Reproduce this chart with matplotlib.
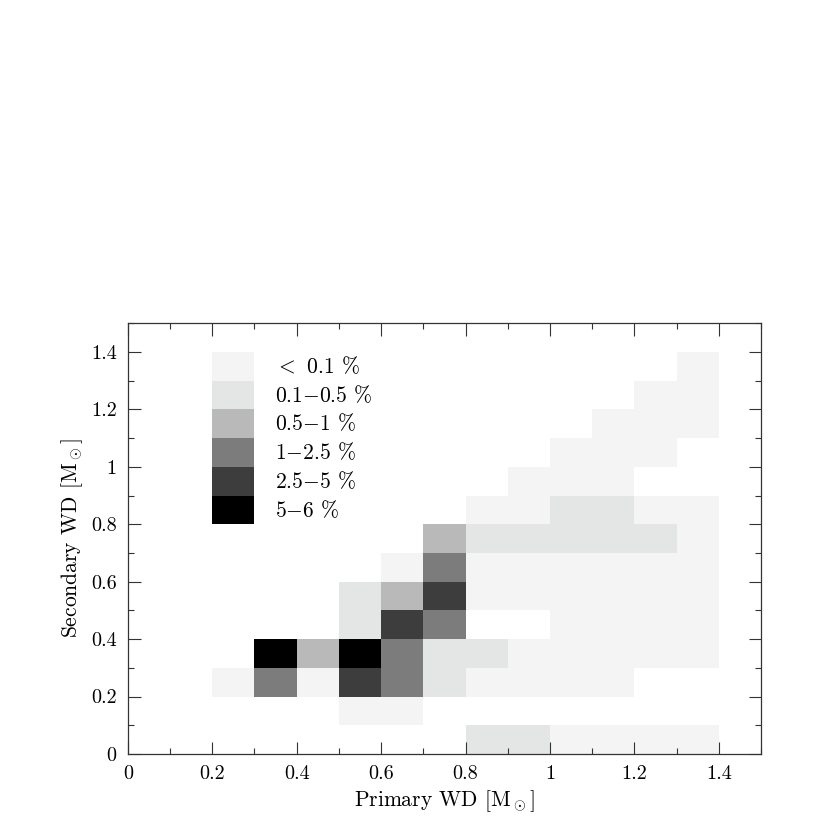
import numpy as np
import matplotlib
matplotlib.use("Agg")
import matplotlib.pyplot as plt
from matplotlib.colors import ListedColormap, BoundaryNorm
from matplotlib.patches import Rectangle
from matplotlib.ticker import MultipleLocator, FormatStrFormatter

plt.rcParams['font.family'] = ['cmr10', 'DejaVu Serif']
plt.rcParams['mathtext.fontset'] = 'cm'
plt.rcParams['axes.unicode_minus'] = False

# bin edges in solar masses
X_EDGES = np.round(np.arange(0, 1.51, 0.1), 2)
Y_EDGES = np.round(np.arange(0, 1.51, 0.1), 2)

# level codes per secondary-mass bin (row), one entry per primary-mass bin
# 0 = empty, 1 = <0.1%, 2 = 0.1-0.5%, 3 = 0.5-1%, 4 = 1-2.5%, 5 = 2.5-5%, 6 = 5-6%
ROW_00 = [0, 0, 0, 0, 0, 0, 0, 0, 2, 2, 1, 1, 1, 1, 0]
ROW_01 = [0, 0, 0, 0, 0, 1, 1, 0, 0, 0, 0, 0, 0, 0, 0]
ROW_02 = [0, 0, 1, 4, 1, 5, 4, 2, 1, 1, 1, 1, 0, 0, 0]
ROW_03 = [0, 0, 0, 6, 3, 6, 4, 2, 2, 1, 1, 1, 1, 1, 0]
ROW_04 = [0, 0, 0, 0, 0, 2, 5, 4, 0, 0, 1, 1, 1, 1, 0]
ROW_05 = [0, 0, 0, 0, 0, 2, 3, 5, 1, 1, 1, 1, 1, 1, 0]
ROW_06 = [0, 0, 0, 0, 0, 0, 1, 4, 1, 1, 1, 1, 1, 1, 0]
ROW_07 = [0, 0, 0, 0, 0, 0, 0, 3, 2, 2, 2, 2, 2, 1, 0]
ROW_08 = [0, 0, 0, 0, 0, 0, 0, 0, 1, 1, 2, 2, 1, 1, 0]
ROW_09 = [0, 0, 0, 0, 0, 0, 0, 0, 0, 1, 1, 1, 0, 0, 0]
ROW_10 = [0, 0, 0, 0, 0, 0, 0, 0, 0, 0, 1, 1, 1, 0, 0]
ROW_11 = [0, 0, 0, 0, 0, 0, 0, 0, 0, 0, 0, 1, 1, 1, 0]
ROW_12 = [0, 0, 0, 0, 0, 0, 0, 0, 0, 0, 0, 0, 1, 1, 0]
ROW_13 = [0, 0, 0, 0, 0, 0, 0, 0, 0, 0, 0, 0, 0, 1, 0]
ROW_14 = [0] * 15

LEVEL_LABELS = [r'$<$ 0.1 %', r'0.1$-$0.5 %', r'0.5$-$1 %',
                r'1$-$2.5 %', r'2.5$-$5 %', r'5$-$6 %']
LEVEL_COLORS = ['#f3f4f3', '#e4e5e5', '#b8b9b8', '#7b7c7b', '#3c3d3c', '#000000']

grid = np.array([ROW_00, ROW_01, ROW_02, ROW_03, ROW_04, ROW_05, ROW_06, ROW_07,
                 ROW_08, ROW_09, ROW_10, ROW_11, ROW_12, ROW_13, ROW_14])
grid = np.ma.masked_equal(grid, 0)

cmap = ListedColormap(LEVEL_COLORS)
norm = BoundaryNorm(np.arange(0.5, 7.0, 1.0), cmap.N)

fig = plt.figure(figsize=(8.3, 8.3), dpi=100)
ax = fig.add_axes([0.154, 0.0916, 0.763, 0.519])

ax.pcolormesh(X_EDGES, Y_EDGES, grid, cmap=cmap, norm=norm, edgecolors='none')

# legend boxes, stacked downwards from the top-left
lx, ly, bw, bh = 0.2, 1.4, 0.1, 0.1
for i, (lab, col) in enumerate(zip(LEVEL_LABELS, LEVEL_COLORS)):
    y0 = ly - (i + 1) * bh
    ax.add_patch(Rectangle((lx, y0), bw, bh, facecolor=col, edgecolor='none'))
    ax.text(lx + bw + 0.048, y0 + bh / 2, lab, fontsize=15.5, va='center', ha='left')

ax.set_xlim(0, 1.5)
ax.set_ylim(0, 1.5)
ax.xaxis.set_major_locator(MultipleLocator(0.2))
ax.xaxis.set_minor_locator(MultipleLocator(0.1))
ax.yaxis.set_major_locator(MultipleLocator(0.2))
ax.yaxis.set_minor_locator(MultipleLocator(0.1))
fmt = FormatStrFormatter('%g')
ax.xaxis.set_major_formatter(fmt)
ax.yaxis.set_major_formatter(fmt)

ax.tick_params(which='both', direction='in', top=True, right=True,
               color='#333333', labelsize=14.5)
ax.tick_params(which='major', length=9, width=0.8, pad=8)
ax.tick_params(which='minor', length=4.5, width=0.8)
for s in ax.spines.values():
    s.set_color('#333333')
    s.set_linewidth(0.9)

ax.set_xlabel(r'Primary WD [M$_\odot$]', fontsize=15.5, labelpad=4)
ax.set_ylabel(r'Secondary WD [M$_\odot$]', fontsize=15.5, labelpad=4)

fig.savefig('out.png', dpi=100)
